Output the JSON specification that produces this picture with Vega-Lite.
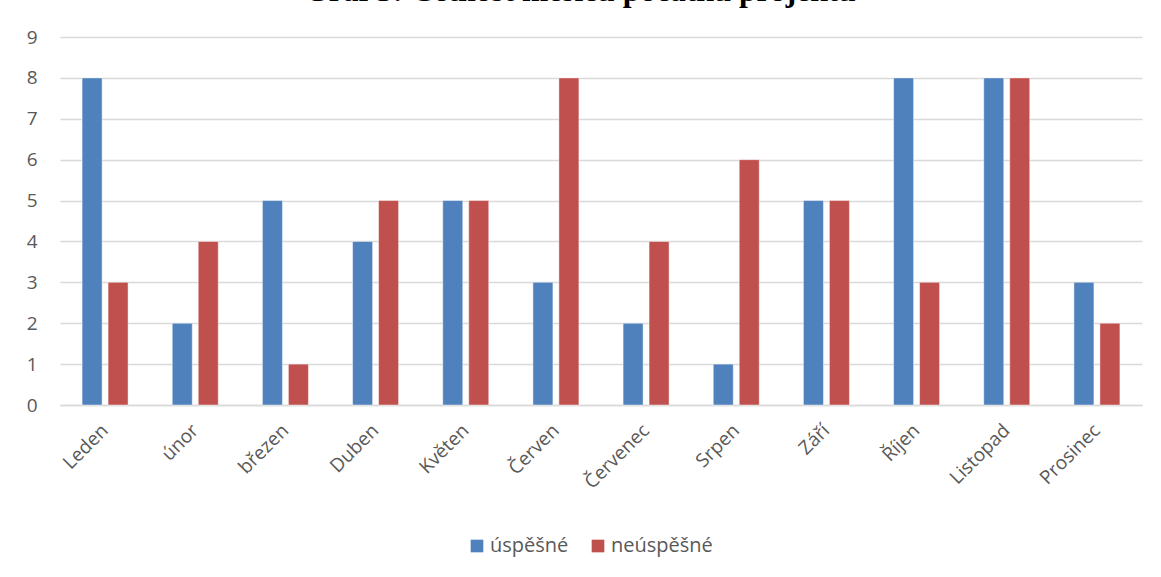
{
  "$schema": "https://vega.github.io/schema/vega-lite/v6.json",
  "autosize": "none",
  "width": 1082,
  "height": 368,
  "padding": {"left": 60, "top": 37, "right": 19, "bottom": 172},
  "background": "white",
  "title": {
    "text": "Graf 3: Četnost měsíců počátku projektu",
    "font": "Liberation Serif",
    "fontSize": 31.5,
    "fontWeight": "bold",
    "color": "#000000",
    "anchor": "middle",
    "frame": "group",
    "baseline": "alphabetic",
    "offset": 0,
    "dy": 4,
    "dx": -21
  },
  "data": {
    "values": [
      {"mesic": "Leden", "typ": "úspěšné", "pocet": 8},
      {"mesic": "Leden", "typ": "neúspěšné", "pocet": 3},
      {"mesic": "únor", "typ": "úspěšné", "pocet": 2},
      {"mesic": "únor", "typ": "neúspěšné", "pocet": 4},
      {"mesic": "březen", "typ": "úspěšné", "pocet": 5},
      {"mesic": "březen", "typ": "neúspěšné", "pocet": 1},
      {"mesic": "Duben", "typ": "úspěšné", "pocet": 4},
      {"mesic": "Duben", "typ": "neúspěšné", "pocet": 5},
      {"mesic": "Květen", "typ": "úspěšné", "pocet": 5},
      {"mesic": "Květen", "typ": "neúspěšné", "pocet": 5},
      {"mesic": "Červen", "typ": "úspěšné", "pocet": 3},
      {"mesic": "Červen", "typ": "neúspěšné", "pocet": 8},
      {"mesic": "Červenec", "typ": "úspěšné", "pocet": 2},
      {"mesic": "Červenec", "typ": "neúspěšné", "pocet": 4},
      {"mesic": "Srpen", "typ": "úspěšné", "pocet": 1},
      {"mesic": "Srpen", "typ": "neúspěšné", "pocet": 6},
      {"mesic": "Září", "typ": "úspěšné", "pocet": 5},
      {"mesic": "Září", "typ": "neúspěšné", "pocet": 5},
      {"mesic": "Říjen", "typ": "úspěšné", "pocet": 8},
      {"mesic": "Říjen", "typ": "neúspěšné", "pocet": 3},
      {"mesic": "Listopad", "typ": "úspěšné", "pocet": 8},
      {"mesic": "Listopad", "typ": "neúspěšné", "pocet": 8},
      {"mesic": "Prosinec", "typ": "úspěšné", "pocet": 3},
      {"mesic": "Prosinec", "typ": "neúspěšné", "pocet": 2}
    ]
  },
  "mark": {"type": "bar", "stroke": "#ffffff", "strokeOpacity": 0.45, "strokeWidth": 1},
  "encoding": {
    "x": {
      "field": "mesic",
      "type": "nominal",
      "sort": null,
      "scale": {"paddingInner": 0.49, "paddingOuter": 0.245},
      "axis": {
        "title": null,
        "labelAngle": -45,
        "labelAlign": "right",
        "labelBaseline": "middle",
        "labelFont": "Open Sans",
        "labelFontSize": 19,
        "labelColor": "#595959",
        "labelPadding": 22,
        "ticks": false,
        "domainColor": "#d9d9d9",
        "domainWidth": 1.5
      }
    },
    "xOffset": {
      "field": "typ",
      "type": "nominal",
      "sort": ["úspěšné", "neúspěšné"],
      "scale": {"paddingInner": 0.23, "paddingOuter": 0}
    },
    "y": {
      "field": "pocet",
      "type": "quantitative",
      "scale": {"domain": [0, 9], "nice": false},
      "axis": {
        "title": null,
        "values": [0, 1, 2, 3, 4, 5, 6, 7, 8, 9],
        "labelOverlap": false,
        "domain": false,
        "ticks": false,
        "labelFont": "Open Sans",
        "labelFontSize": 19,
        "labelColor": "#595959",
        "labelPadding": 23,
        "gridColor": "#d9d9d9",
        "gridWidth": 1.5
      }
    },
    "color": {
      "field": "typ",
      "type": "nominal",
      "sort": ["úspěšné", "neúspěšné"],
      "scale": {"domain": ["úspěšné", "neúspěšné"], "range": ["#4f81bd", "#c0504d"]},
      "legend": {
        "title": null,
        "orient": "none",
        "direction": "horizontal",
        "legendX": 407,
        "legendY": 499,
        "symbolType": "square",
        "symbolSize": 160,
        "symbolStrokeWidth": 0,
        "labelFont": "Open Sans",
        "labelFontSize": 20,
        "labelColor": "#595959",
        "columnPadding": 19,
        "labelOffset": 3
      }
    }
  },
  "config": {"view": {"stroke": null}}
}
